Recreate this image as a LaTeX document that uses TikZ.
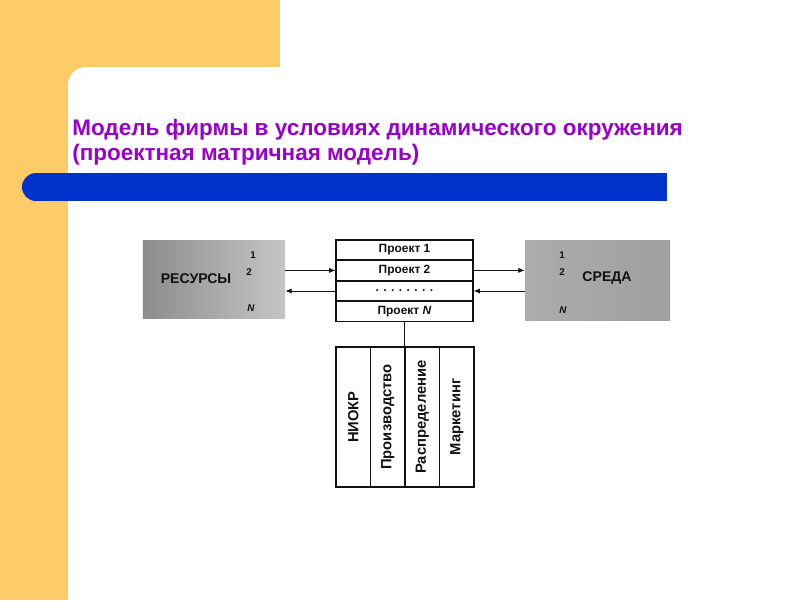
\documentclass[tikz,border=0pt]{standalone}
\usepackage{fontspec}
\setmainfont{Liberation Sans}
\usetikzlibrary{arrows.meta,positioning}
\definecolor{slideyellow}{HTML}{FECB69}
\definecolor{slideblue}{HTML}{0033CC}
\definecolor{slidepurple}{HTML}{9900CC}
\definecolor{scanink}{HTML}{111111}
\tikzset{
  projrow/.style={draw=scanink, line width=.8pt, minimum width=3.425cm,
    minimum height=.4875cm, inner sep=0pt, text=scanink,
    font=\fontsize{8.5}{9}\selectfont\bfseries},
  funcol/.style={draw=scanink, line width=.8pt, rotate=90, minimum width=3.5cm,
    minimum height=.8625cm, inner sep=0pt, text=scanink,
    font=\fontsize{10.5}{11}\selectfont\bfseries},
  scanbox/.style={draw=none, inner sep=0pt},
  boxtitle/.style={font=\fontsize{10}{11}\selectfont\bfseries, text=scanink, inner sep=1pt},
  boxmark/.style={font=\fontsize{7}{8}\selectfont\bfseries, text=scanink, inner sep=0pt},
  flow/.style={-{Latex[length=1.6mm,width=1.3mm]}, draw=scanink, line width=.6pt}
}
\begin{document}
\begin{tikzpicture}[x=.025cm,y=-.025cm]
  \useasboundingbox (0,0) rectangle (800,600);
  \clip (0,0) rectangle (800,600);
  % slide frame
  \fill[slideyellow] (0,0) rectangle (280,67);
  \fill[slideyellow] (0,0) rectangle (68,600);
  \fill[white] (68,67) rectangle (800,600);
  \fill[slideyellow] (68,67) rectangle (86,85);
  \fill[white] (86,85) circle[radius=.45cm];
  \fill[slideblue] (36,173) rectangle (667,201);
  \fill[slideblue] (36,187) circle[radius=.35cm];

  \node[anchor=north west, inner sep=0pt, align=left, text=slidepurple,
    font=\fontsize{16}{18}\selectfont\bfseries] (title) at (72,119)
    {Модель фирмы в условиях динамического окружения\\(проектная матричная модель)};

  % projects
  \node[projrow] (p1) at (404.5,249.75) {Проект 1};
  \node[projrow, below=0pt of p1] (p2) {Проект 2};
  \node[projrow, below=0pt of p2] (pd) {. . . . . . . .};
  \node[projrow, below=0pt of pd] (pn) {Проект \textit{N}};

  % resources and environment
  \node[scanbox, minimum width=3.55cm, minimum height=1.925cm,
    left color=gray!90, right color=gray!45] (res) at (214,279.5) {};
  \node[boxtitle] (restxt) at (196,279) {РЕСУРСЫ};
  \node[boxmark] (res1) at (253,255) {1};
  \node[boxmark] (res2) at (249,272) {2};
  \node[boxmark] (resn) at (251,308) {\textit{N}};

  \node[scanbox, minimum width=3.625cm, minimum height=1.975cm,
    left color=gray!65, middle color=gray!40, right color=gray!75] (sreda) at (597.5,280.5) {};
  \node[boxtitle] (sredatxt) at (607,278) {СРЕДА};
  \node[boxmark] (sreda1) at (562,255) {1};
  \node[boxmark] (sreda2) at (562,272) {2};
  \node[boxmark] (sredan) at (563,310) {\textit{N}};

  \draw[flow] (res.east |- p2.west) -- (p2.west);
  \draw[flow] (pd.west) -- (pd.west -| res.east);
  \draw[flow] (p2.east) -- (p2.east -| sreda.west);
  \draw[flow] (sreda.west |- pd.east) -- (pd.east);

  % functions
  \node[funcol] (f1) at (353.25,417) {НИОКР};
  \node[funcol] (f2) at (387.75,417) {Производство};
  \node[funcol] (f3) at (422.25,417) {Распределение};
  \node[funcol] (f4) at (456.75,417) {Маркетинг};
  \draw[scanink, line width=.6pt] (pn.south) -- (pn.south |- f2.east);
\end{tikzpicture}
\end{document}
